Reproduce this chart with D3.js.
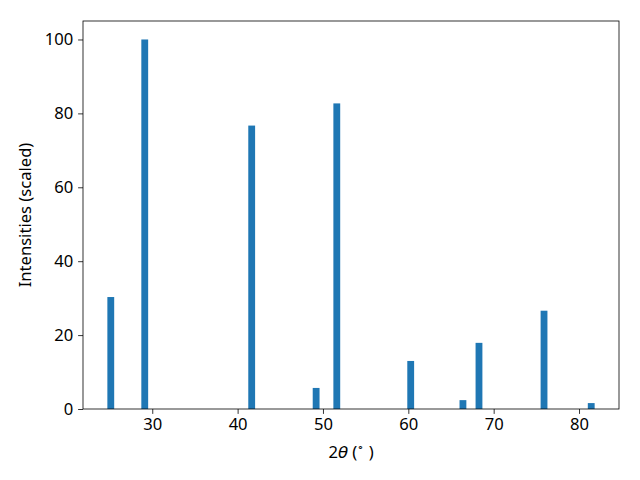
<!DOCTYPE html>
<html>
<head>
<meta charset="utf-8">
<script src="https://cdn.jsdelivr.net/npm/d3@7"></script>
<style>
  body { margin: 0; background: #fff; }
  svg text { font-family: "Noto Sans", sans-serif; fill: #000; }
</style>
</head>
<body>
<svg></svg>
<script>
const width = 640;
const height = 480;
const margin = { left: 83, right: 21, top: 21, bottom: 71 };
const fontSize = "16.6px";

// peak positions (2θ) and scaled intensities
const angles = [25.14, 29.12, 41.65, 49.2, 51.62, 60.28, 66.4, 68.28, 75.9, 81.43];
const intensities = [30.3, 100, 76.7, 5.7, 82.7, 13.0, 2.4, 17.9, 26.6, 1.6];
const xTicks = [30, 40, 50, 60, 70, 80];
const yTicks = [0, 20, 40, 60, 80, 100];
const barWidth = 0.8;

const data = angles.map((a, i) => ({ x: a, y: intensities[i] }));

let svg = d3.select("svg")
    .attr("width", width)
    .attr("height", height);

const innerW = width - margin.left - margin.right;
const innerH = height - margin.top - margin.bottom;

// x limits like matplotlib: 5% padding around bar extents
const lo = d3.min(angles) - barWidth / 2;
const hi = d3.max(angles) + barWidth / 2;
const pad = (hi - lo) * 0.05;

let scaleX = d3.scaleLinear()
    .domain([lo - pad, hi + pad])
    .range([0, innerW]);

let scaleY = d3.scaleLinear()
    .domain([0, 105])
    .range([innerH, 0]);

let g = svg.append("g")
    .attr("transform", `translate(${margin.left}, ${margin.top})`);

// bars
g.selectAll(".bar")
    .data(data)
    .enter()
    .append("rect")
    .attr("x", d => scaleX(d.x - barWidth / 2))
    .attr("y", d => scaleY(d.y))
    .attr("width", d => scaleX(d.x + barWidth / 2) - scaleX(d.x - barWidth / 2))
    .attr("height", d => innerH - scaleY(d.y))
    .style("fill", "#1f77b4");

// axes
let axisX = d3.axisBottom(scaleX).tickValues(xTicks).tickSize(4.9).tickPadding(4);
let axisY = d3.axisLeft(scaleY).tickValues(yTicks).tickSize(4.9).tickPadding(4.9);

g.append("g")
    .attr("transform", `translate(0, ${innerH})`)
    .call(axisX)
    .call(a => a.select(".domain").remove())
    .selectAll("text")
    .style("font-size", fontSize);

g.append("g")
    .call(axisY)
    .call(a => a.select(".domain").remove())
    .selectAll("text")
    .style("font-size", fontSize);

g.selectAll(".tick line").attr("stroke", "#000").attr("stroke-width", 0.8);

// frame
g.append("rect")
    .attr("x", 0)
    .attr("y", 0)
    .attr("width", innerW)
    .attr("height", innerH)
    .attr("fill", "none")
    .attr("stroke", "#000")
    .attr("stroke-width", 0.8);

// axis labels
let xl = svg.append("text")
    .attr("x", margin.left + innerW / 2)
    .attr("y", 458)
    .attr("text-anchor", "middle")
    .style("font-size", fontSize);
xl.append("tspan").text("2");
xl.append("tspan").attr("font-family", "DejaVu Sans").attr("font-style", "italic").text("θ");
xl.append("tspan").text(" (");
xl.append("tspan").attr("dy", -7).style("font-size", "11px").text("∘");
xl.append("tspan").attr("dy", 7).text(" )");

svg.append("text")
    .attr("transform", `translate(31, ${margin.top + innerH / 2}) rotate(-90)`)
    .attr("text-anchor", "middle")
    .style("font-size", fontSize)
    .text("Intensities (scaled)");
</script>
</body>
</html>
